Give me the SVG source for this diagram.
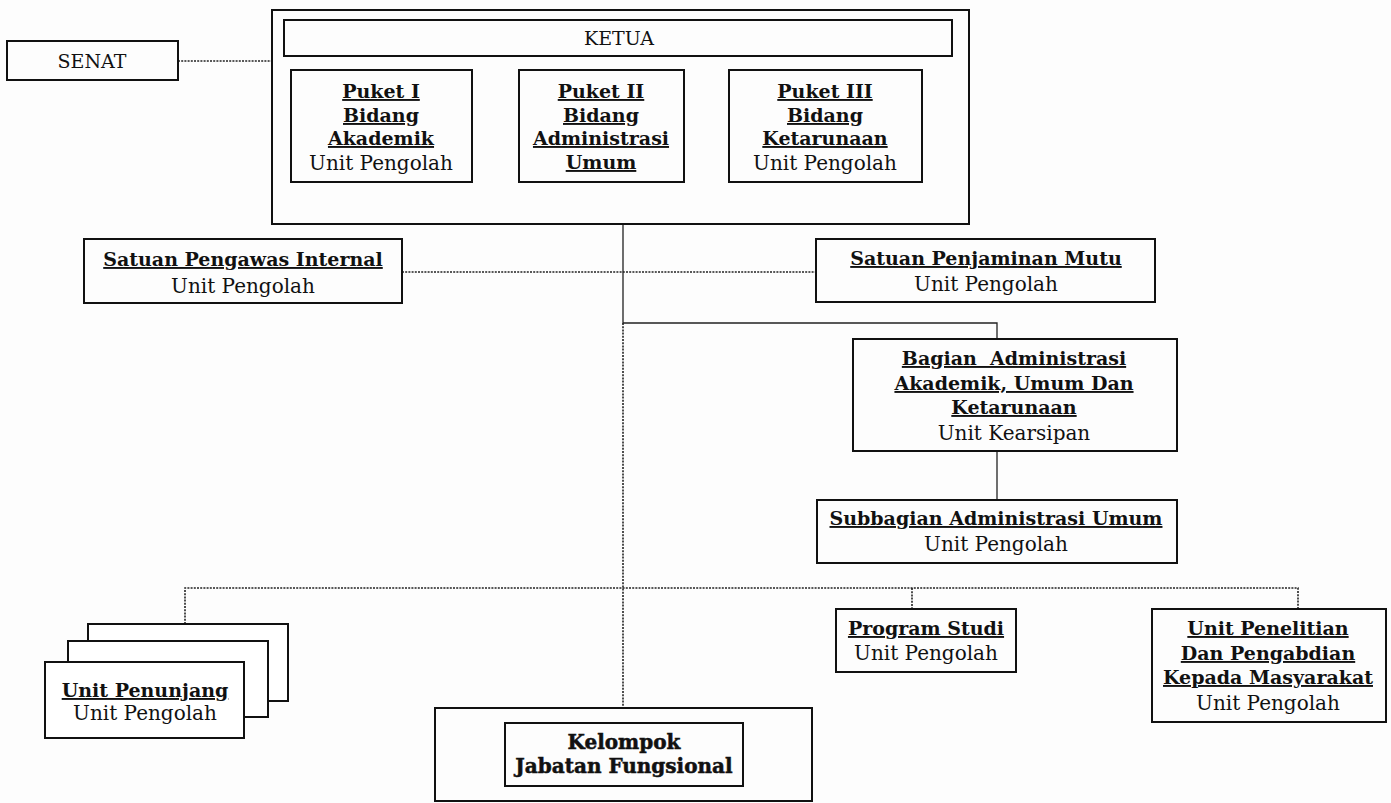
<svg xmlns="http://www.w3.org/2000/svg" width="1391" height="803" viewBox="0 0 1391 803">
<style>
.box{fill:none;stroke:#111;stroke-width:2}
.wbox{fill:#fff;stroke:#111;stroke-width:2}
.solid{fill:none;stroke:#222;stroke-width:1.3}
.dot{fill:none;stroke:#222;stroke-width:1.6;stroke-dasharray:2 1.2}
text{font-family:"DejaVu Serif","Liberation Serif",serif;fill:#111;text-anchor:middle}
.r{font-size:20px}
.c{font-size:19px}
.b{font-size:19px;font-weight:bold;text-decoration:underline}
.k{font-size:20px;font-weight:bold;stroke:#111;stroke-width:0.5}
</style>
<rect width="1391" height="803" fill="#fdfdfd"/>
<g id="connectors">
<path class="dot" d="M178 61H272"/>
<path class="solid" d="M623 224V323H997V339"/>
<path class="solid" d="M997 451V500"/>
<path class="dot" d="M402 272H816"/>
<path class="dot" d="M623 323V708"/>
<path class="dot" d="M185 624V588H1298V609"/>
<path class="dot" d="M912 588V609"/>
</g>
<g id="senat">
<rect class="box" x="7" y="41" width="171" height="39"/>
<text class="c" x="92" y="68">SENAT</text>
</g>
<g id="ketua-group">
<rect class="box" x="272" y="10" width="697" height="214"/>
</g>
<g id="ketua">
<rect class="box" x="284" y="20" width="668" height="36"/>
<text class="c" x="619" y="45">KETUA</text>
</g>
<g id="puket1">
<rect class="box" x="291" y="70" width="181" height="112"/>
<text class="b" x="381" y="98">Puket I</text>
<text class="b" x="381" y="122">Bidang</text>
<text class="b" x="381" y="145">Akademik</text>
<text class="r" x="381" y="170">Unit Pengolah</text>
</g>
<g id="puket2">
<rect class="box" x="519" y="70" width="165" height="112"/>
<text class="b" x="601" y="98">Puket II</text>
<text class="b" x="601" y="122">Bidang </text>
<text class="b" x="601" y="145">Administrasi</text>
<text class="b" x="601" y="169">Umum</text>
</g>
<g id="puket3">
<rect class="box" x="729" y="70" width="193" height="112"/>
<text class="b" x="825" y="98">Puket III</text>
<text class="b" x="825" y="122">Bidang</text>
<text class="b" x="825" y="145">Ketarunaan</text>
<text class="r" x="825" y="170">Unit Pengolah</text>
</g>
<g id="spi">
<rect class="box" x="84" y="239" width="318" height="64"/>
<text class="b" x="243" y="266">Satuan Pengawas Internal</text>
<text class="r" x="243" y="293">Unit Pengolah</text>
</g>
<g id="spm">
<rect class="box" x="816" y="239" width="339" height="63"/>
<text class="b" x="986" y="265">Satuan Penjaminan Mutu</text>
<text class="r" x="986" y="291">Unit Pengolah</text>
</g>
<g id="bagian">
<rect class="box" x="853" y="339" width="324" height="112"/>
<text class="b" x="1014" y="365" xml:space="preserve">Bagian  Administrasi</text>
<text class="b" x="1014" y="390">Akademik, Umum Dan</text>
<text class="b" x="1014" y="414">Ketarunaan</text>
<text class="r" x="1014" y="440">Unit Kearsipan</text>
</g>
<g id="subbagian">
<rect class="box" x="817" y="500" width="360" height="63"/>
<text class="b" x="996" y="525">Subbagian Administrasi Umum</text>
<text class="r" x="996" y="551">Unit Pengolah</text>
</g>
<g id="unit-penunjang">
<rect class="wbox" x="88" y="624" width="200" height="77"/>
<rect class="wbox" x="68" y="641" width="200" height="76"/>
<rect class="wbox" x="45" y="662" width="199" height="76"/>
<text class="b" x="145" y="697">Unit Penunjang</text>
<text class="r" x="145" y="720">Unit Pengolah</text>
</g>
<g id="program-studi">
<rect class="box" x="836" y="609" width="180" height="63"/>
<text class="b" x="926" y="635">Program Studi</text>
<text class="r" x="926" y="660">Unit Pengolah</text>
</g>
<g id="unit-penelitian">
<rect class="box" x="1152" y="609" width="234" height="113"/>
<text class="b" x="1268" y="635">Unit Penelitian</text>
<text class="b" x="1268" y="660">Dan Pengabdian</text>
<text class="b" x="1268" y="684">Kepada Masyarakat</text>
<text class="r" x="1268" y="710">Unit Pengolah</text>
</g>
<g id="kelompok">
<rect class="box" x="435" y="708" width="377" height="93"/>
<rect class="box" x="505" y="723" width="238" height="63"/>
<text class="k" x="624" y="749">Kelompok</text>
<text class="k" x="624" y="773">Jabatan Fungsional</text>
</g>
</svg>
